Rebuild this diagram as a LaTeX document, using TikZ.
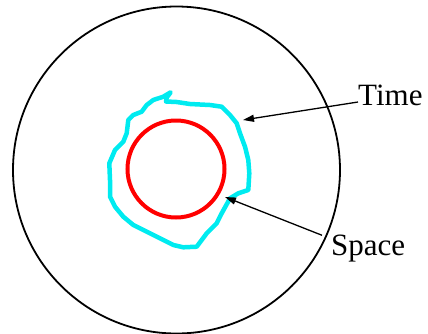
\documentclass[tikz,border=0pt]{standalone}
\usepackage{fontspec}
\setmainfont{Liberation Serif}
\usetikzlibrary{arrows.meta,positioning,calc}
\definecolor{regioncyan}{RGB}{0,235,240}

\begin{document}
\begin{tikzpicture}[x=1pt, y=-1pt,
    lbl/.style={inner sep=0pt, font=\fontsize{31}{36}\selectfont},
    arr/.style={-{Triangle[length=11pt, width=7pt]}, line width=1.3pt},
]
\useasboundingbox (0,0) rectangle (428,333);

% outer boundary
\draw[line width=1.8pt] (176.5,170) circle[radius=163.5pt];

% irregular region
\draw[regioncyan, line width=4.5pt, line join=round]
  (170.7,92.3) -- (166.7,97.5) -- (166,101.5) -- (176.7,102) -- (190,104)
  -- (210,105) -- (221.7,106.7) -- (230,115) -- (236.7,123.3) -- (240,133.3)
  -- (245,146.7) -- (248.3,160) -- (249.3,173.3) -- (248.3,190) -- (238.3,193.3)
  -- (230,198.3) -- (221.7,213.3) -- (216.7,223.3) -- (206.7,233.3) -- (196.7,246.7)
  -- (183.3,247.3) -- (173.3,245) -- (160,238.3) -- (146.7,231.7) -- (133.3,225)
  -- (123.3,216.7) -- (115,206.7) -- (110,196.7) -- (110,180) -- (109.3,163.3)
  -- (115,150) -- (123.3,141.7) -- (126.7,133.3) -- (128.3,120) -- (133.3,115)
  -- (141.7,111.7) -- (146.7,105) -- (153.3,100) -- (163.3,96.7) -- cycle;

% inner circle
\draw[red, line width=4pt] (176,169) circle[radius=48.5pt];

\coordinate (timetip) at (243,120);
\coordinate (spacetip) at (225,197);

\node[lbl, anchor=base west] (time) at (358,105) {Time};
\node[lbl, anchor=base west] (space) at (331,255) {Space};

\draw[arr] ([yshift=3pt]time.base west) -- (timetip);
\draw[arr] ([xshift=-9pt, yshift=-1pt]space.north west) -- (spacetip);
\end{tikzpicture}
\end{document}
